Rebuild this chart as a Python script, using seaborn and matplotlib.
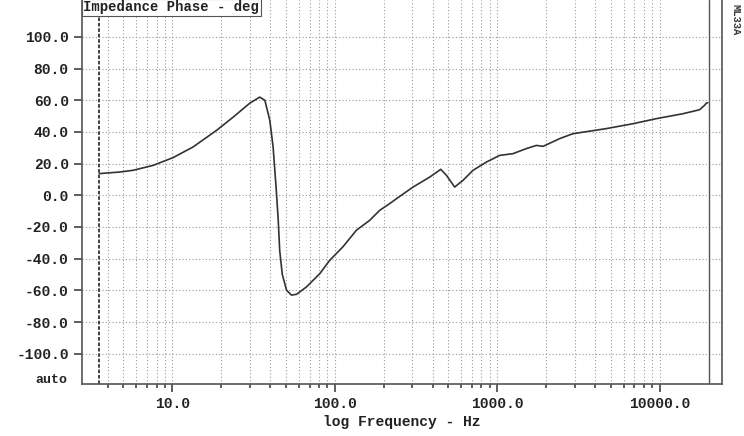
import matplotlib
matplotlib.use("Agg")
import matplotlib.pyplot as plt
import matplotlib.ticker as mticker
import matplotlib.transforms as mtrans
import pandas as pd
import seaborn as sns

# values (frequency in Hz, phase in degrees)
freq_hz = [3.55, 4.75, 5.74, 7.62, 10.1, 13.4, 18.7, 23.7, 30.0, 34.5,
           37.1, 39.8, 41.7, 43.5, 44.8, 45.8, 47.5, 50.5, 54.1, 58.1,
           67, 80.9, 93.1, 112, 136, 164, 189, 218, 240, 303,
           384, 449, 487, 547, 616, 710, 858, 1036, 1251, 1512,
           1742, 1915, 2425, 2925, 4695, 6850, 9550, 13900, 17600, 18900,
           19400, 19800]
phase_deg = [13.7, 14.7, 15.8, 18.9, 23.8, 30.5, 41.0, 49.4, 58.2, 62.0,
             60.0, 47.3, 30.5, 5.0, -15.0, -35.0, -50.0, -60.0, -63.0, -62.5,
             -57.8, -49.4, -41.0, -32.6, -22.0, -15.8, -9.5, -5.2, -2.1, 5.2,
             11.5, 16.4, 12.6, 5.2, 9.5, 15.8, 21.0, 25.2, 26.3, 29.5,
             31.5, 30.9, 35.8, 38.9, 42.1, 45.2, 48.4, 51.5, 54.0, 56.8,
             58.2, 58.5]

y_ticks = [100, 80, 60, 40, 20, 0, -20, -40, -60, -80, -100]
x_major = [10, 100, 1000, 10000]
x_major_labels = ["10.0", "100.0", "1000.0", "10000.0"]

title_text = "Impedance Phase - deg"
x_label = "log Frequency - Hz"
side_tag = "ML33A"

df = pd.DataFrame({"freq": freq_hz, "phase": phase_deg})

sns.set_style("white")
plt.rcParams["font.family"] = ["Liberation Mono", "DejaVu Sans Mono"]

fig = plt.figure(figsize=(7.44, 4.36), dpi=100)
ax = fig.add_axes([0.110, 0.119, 0.860, 0.881])

ink = "#333333"
grid_col = "#9a9a9a"

sns.lineplot(data=df, x="freq", y="phase", ax=ax, color=ink, lw=1.2,
             sort=False, estimator=None)

ax.set_xscale("log")
ax.set_xlim(2.77, 24100)
ax.set_ylim(-119.2, 123.3)

# sweep start / stop markers
ax.axvline(freq_hz[0], color=ink, lw=1.3, ls=(0, (2, 1)))
ax.axvline(20000, color="#555555", lw=1.0)

ax.xaxis.set_major_locator(mticker.FixedLocator(x_major))
ax.xaxis.set_major_formatter(mticker.FixedFormatter(x_major_labels))
minor_x = [m * d for d in (1, 10, 100, 1000) for m in range(2, 10)
           if 3.5 < m * d < 20000]
ax.xaxis.set_minor_locator(mticker.FixedLocator(minor_x))
ax.xaxis.set_minor_formatter(mticker.NullFormatter())
ax.set_yticks(y_ticks)
ax.set_yticklabels([f"{v:.1f}" for v in y_ticks])

ax.grid(True, which="both", axis="x", color=grid_col, lw=0.8, ls=(0, (1, 2)))
ax.grid(True, which="major", axis="y", color=grid_col, lw=0.8, ls=(0, (1, 2)))

ax.tick_params(axis="both", which="major", direction="out", length=6, width=1.1,
               color=ink, labelsize=10.5, labelcolor="#222222",
               bottom=True, left=True)
ax.tick_params(axis="x", which="minor", direction="out", length=3, width=1.1,
               color=ink, bottom=True)
for lab in ax.get_xticklabels() + ax.get_yticklabels():
    lab.set_fontweight("bold")

for side in ["left", "bottom", "right"]:
    ax.spines[side].set_color("#555555")
    ax.spines[side].set_linewidth(1.2)
ax.spines["top"].set_visible(False)

ax.set_xlabel(x_label, fontsize=10.5, fontweight="bold", color="#222222", labelpad=3)
ax.set_ylabel("")

trans = mtrans.blended_transform_factory(ax.transAxes, ax.transData)
ax.text(-0.022, -116.5, "auto", transform=trans, ha="right", va="center",
        fontsize=9.5, fontweight="bold", color="#222222")

fig.text(0.112, 0.999, title_text, ha="left", va="top", fontsize=10,
         fontweight="bold", color="#222222",
         bbox=dict(boxstyle="square,pad=0.1", fc="white", ec="#555555", lw=0.8))
fig.text(0.988, 0.99, side_tag, ha="center", va="top", rotation=-90,
         fontsize=7.5, fontweight="bold", color="#333333")

fig.savefig("out.png", dpi=100)
